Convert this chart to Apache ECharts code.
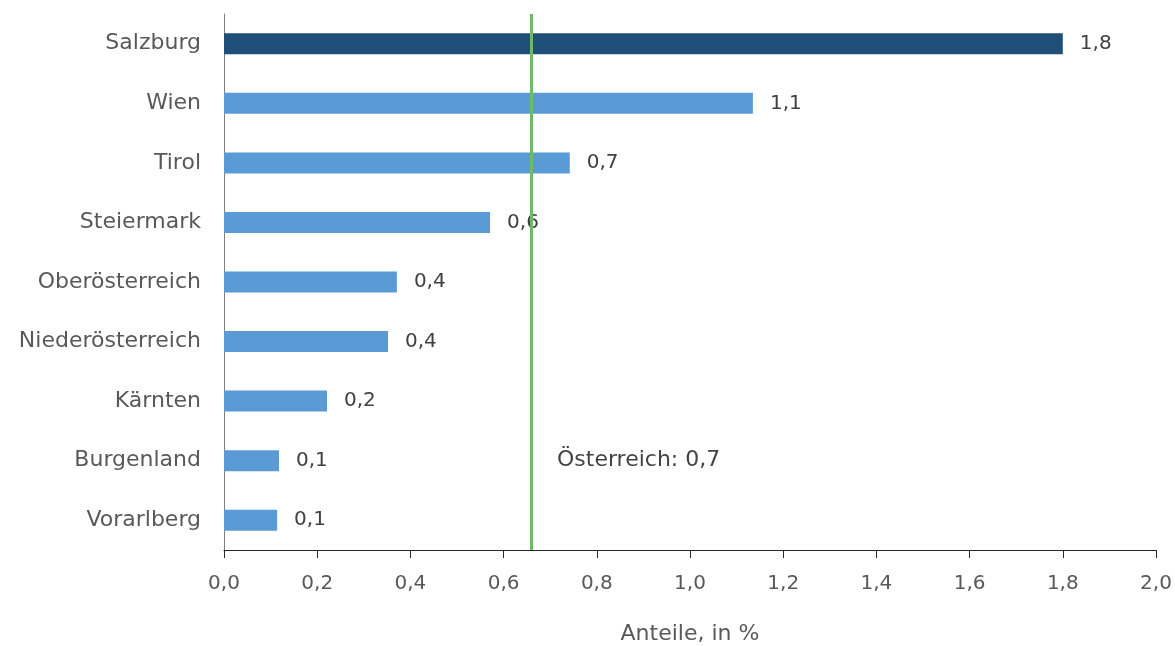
<!DOCTYPE html>
<html><head><meta charset="utf-8">
<script src="https://cdn.jsdelivr.net/npm/echarts@6/dist/echarts.min.js"></script>
<style>html,body{margin:0;padding:0;background:#fff}#c{width:1175px;height:646px}</style>
</head><body><div id="c"></div>
<script>
const categories = ["Vorarlberg","Burgenland","Kärnten","Niederösterreich","Oberösterreich","Steiermark","Tirol","Wien","Salzburg"];
const values = [0.114, 0.118, 0.221, 0.352, 0.371, 0.571, 0.742, 1.135, 1.800];
const highlight = "Salzburg";
const austriaValue = 0.661;
const austriaLabel = "Österreich";
const austriaRow = "Burgenland";
const xTicks = [0, 0.2, 0.4, 0.6, 0.8, 1.0, 1.2, 1.4, 1.6, 1.8, 2.0];
const axisTitle = "Anteile, in %";

const FONT = "DejaVu Sans";
const fmt = v => v.toFixed(1).replace('.', ',');
const chart = echarts.init(document.getElementById('c'));
chart.setOption({
  animation: false,
  textStyle: {fontFamily: FONT},
  grid: {left: 224, right: 19, top: 14, bottom: 96, containLabel: false, outerBoundsMode: 'none'},
  xAxis: {
    type: 'value', min: xTicks[0], max: xTicks[xTicks.length-1], interval: 0.2,
    axisLine: {show: true, lineStyle: {color: '#262626', width: 1}},
    axisTick: {show: true, length: 8, lineStyle: {color: '#262626'}},
    splitLine: {show: false},
    axisLabel: {color: '#595959', fontSize: 20, fontFamily: FONT, margin: 24, formatter: fmt},
    name: axisTitle, nameLocation: 'middle', nameGap: 73,
    nameTextStyle: {color: '#595959', fontSize: 22, fontFamily: FONT}
  },
  yAxis: {
    type: 'category', data: categories,
    axisLine: {show: true, lineStyle: {color: '#808080', width: 1}},
    axisTick: {show: false},
    axisLabel: {color: '#595959', fontSize: 22, fontFamily: FONT, margin: 23}
  },
  series: [{
    type: 'bar', barWidth: 21,
    data: values.map((v, i) => ({value: v, itemStyle: {color: categories[i] === highlight ? '#1F4E79' : '#5B9BD5'}})),
    label: {show: true, position: 'right', distance: 17, color: '#404040', fontSize: 20, fontFamily: FONT,
      formatter: p => fmt(p.value)},
    markLine: {
      silent: true, symbol: 'none',
      lineStyle: {color: '#6FBA6A', width: 3, type: 'solid'},
      label: {show: false},
      data: [{xAxis: austriaValue}]
    },
    z: 2
  }, {
    type: 'scatter', symbolSize: 0,
    data: [[austriaValue, austriaRow]],
    label: {show: true, position: 'right', distance: 25, color: '#111', fontSize: 22, fontFamily: FONT,
      formatter: p => austriaLabel + ': ' + fmt(p.value[0])},
    z: 5
  }]
});
</script></body></html>
